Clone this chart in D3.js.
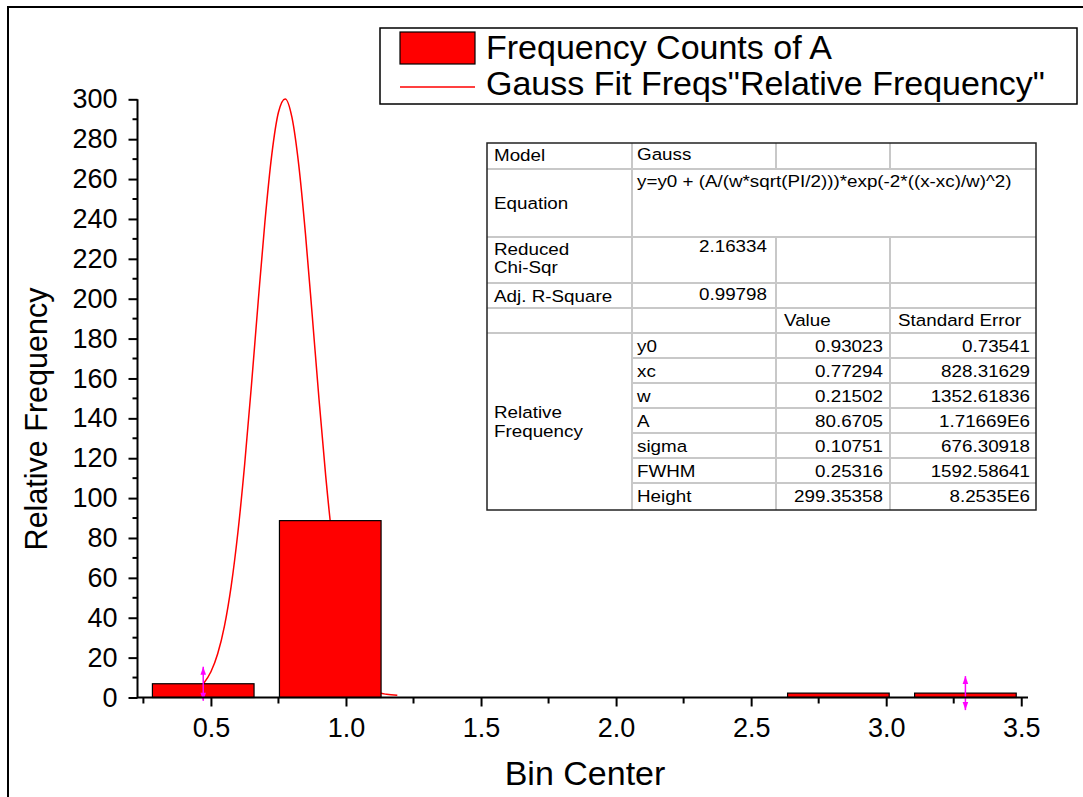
<!DOCTYPE html>
<html>
<head>
<meta charset="utf-8">
<script src="https://cdnjs.cloudflare.com/ajax/libs/d3/7.8.5/d3.min.js"></script>
<style>
  html, body { margin: 0; padding: 0; background: #fff; }
  svg { display: block; }
  text { font-family: "Liberation Sans", Arial, sans-serif; fill: #000; }
</style>
</head>
<body>
<svg id="chart" width="1083" height="797"></svg>
<script>
// ---------- data ----------
const binCenters = [0.4715, 0.9418, 1.4121, 1.8824, 2.3527, 2.8230, 3.2933];
const relFreq    = [6.9, 88.7, 0, 0, 0, 2.2, 2.2];
const binWidth = 0.4703;

const fitX = [0.4715, 0.50, 0.525, 0.55, 0.575, 0.60, 0.625, 0.65, 0.675, 0.70, 0.725, 0.75, 0.775,
              0.80, 0.825, 0.85, 0.875, 0.90, 0.925, 0.95, 0.975, 1.00, 1.025, 1.05, 1.075, 1.10,
              1.125, 1.15, 1.19];
const fitY = [6.8, 12.9, 21.9, 35.8, 55.9, 83.0, 117.1, 156.6, 198.6, 238.7, 271.9, 293.5, 300.2,
              290.9, 267.2, 232.5, 191.7, 149.8, 111.0, 78.1, 52.1, 33.1, 20.1, 11.7, 6.7, 3.9,
              2.3, 1.6, 1.1];

const fitRangeX = [0.4715, 3.2933];
const fitRangeY = [6.9, 2.2];

const yMajor = [0, 20, 40, 60, 80, 100, 120, 140, 160, 180, 200, 220, 240, 260, 280, 300];
const xMajor = [0.5, 1.0, 1.5, 2.0, 2.5, 3.0, 3.5];
const xMinor = [0.25, 0.75, 1.25, 1.75, 2.25, 2.75, 3.25];

const legendLabels = ["Frequency Counts of A", "Gauss Fit Freqs\"Relative Frequency\""];

const tblModel = ["Model", "Gauss"];
const tblEquation = ["Equation", "y=y0 + (A/(w*sqrt(PI/2)))*exp(-2*((x-xc)/w)^2)"];
const tblChi = [["Reduced", "Chi-Sqr"], "2.16334"];
const tblAdjR = ["Adj. R-Square", "0.99798"];
const tblHeader = ["Value", "Standard Error"];
const tblGroup = ["Relative", "Frequency"];
const paramNames  = ["y0", "xc", "w", "A", "sigma", "FWHM", "Height"];
const paramValues = ["0.93023", "0.77294", "0.21502", "80.6705", "0.10751", "0.25316", "299.35358"];
const paramErrors = ["0.73541", "828.31629", "1352.61836", "1.71669E6", "676.30918", "1592.58641", "8.2535E6"];

// ---------- drawing ----------
const svg = d3.select("#chart");
const FONT = "'Liberation Sans', Arial, sans-serif";

// page frame
svg.append("rect").attr("x", 8).attr("y", 7).attr("width", 1200).attr("height", 900)
  .attr("fill", "none").attr("stroke", "#000").attr("stroke-width", 2);

const x = d3.scaleLinear().domain([0.23, 3.525]).range([138, 1028]);
const y = d3.scaleLinear().domain([0, 300]).range([697.5, 99.3]);

// fit curve (under bars)
const line = d3.line().x((d, i) => x(fitX[i])).y(d => y(d)).curve(d3.curveMonotoneX);
svg.append("path").datum(fitY).attr("d", line)
  .attr("fill", "none").attr("stroke", "#ff0000").attr("stroke-width", 1.5);

// bars
const barW = binWidth * 0.8;
svg.append("g").selectAll("rect").data(relFreq.map((v, i) => ({c: binCenters[i], v})).filter(d => d.v > 0))
  .join("rect")
  .attr("x", d => x(d.c - barW / 2))
  .attr("width", d => x(d.c + barW / 2) - x(d.c - barW / 2))
  .attr("y", d => y(d.v))
  .attr("height", d => y(0) - y(d.v))
  .attr("fill", "#ff0000").attr("stroke", "#000").attr("stroke-width", 1.2);

// fit range markers (magenta double arrows)
const mk = svg.append("g").attr("fill", "#ff00ff").attr("stroke", "#ff00ff");
fitRangeX.forEach((fx, i) => {
  const cx = x(fx), cy = y(fitRangeY[i]);
  mk.append("line").attr("x1", cx).attr("x2", cx).attr("y1", cy - 17).attr("y2", cy + 17).attr("stroke-width", 1.5);
  mk.append("path").attr("stroke", "none")
    .attr("d", `M${cx},${cy - 17} L${cx - 2.8},${cy - 9} L${cx + 2.8},${cy - 9} Z`);
  mk.append("path").attr("stroke", "none")
    .attr("d", `M${cx},${cy + 17} L${cx - 2.8},${cy + 9} L${cx + 2.8},${cy + 9} Z`);
});

// y axis
const yAxis = svg.append("g").attr("transform", "translate(137.5,0)")
  .call(d3.axisLeft(y).tickValues(yMajor).tickFormat(d3.format("d")).tickSize(9).tickPadding(11));
yAxis.select(".domain").attr("d", `M0,${y(0)}V${y(300)}`).attr("stroke-width", 2);
yAxis.selectAll(".tick line").attr("stroke-width", 2);
yAxis.selectAll("text").attr("font-size", 27).attr("font-family", FONT);
const yMinor = d3.range(10, 300, 20);
yAxis.append("g").selectAll("line").data(yMinor).join("line")
  .attr("x1", -5).attr("x2", 0).attr("y1", d => y(d)).attr("y2", d => y(d))
  .attr("stroke", "#000").attr("stroke-width", 2);

// x axis
const xAxis = svg.append("g").attr("transform", `translate(0,${y(0)})`)
  .call(d3.axisBottom(x).tickValues(xMajor).tickFormat(d3.format(".1f")).tickSize(9).tickPadding(11.5));
xAxis.select(".domain").attr("d", `M${x(0.23) - 1},0H${x(3.525)}`).attr("stroke-width", 2);
xAxis.selectAll(".tick line").attr("stroke-width", 2);
xAxis.selectAll("text").attr("font-size", 27).attr("font-family", FONT);
xAxis.append("g").selectAll("line").data(xMinor).join("line")
  .attr("x1", d => x(d)).attr("x2", d => x(d)).attr("y1", 0).attr("y2", 6)
  .attr("stroke", "#000").attr("stroke-width", 2);

// axis titles
svg.append("text").attr("x", 585).attr("y", 785).attr("text-anchor", "middle")
  .attr("font-size", 34).text("Bin Center");
svg.append("text").attr("transform", "translate(47,419) rotate(-90)").attr("text-anchor", "middle")
  .attr("font-size", 30.5).text("Relative Frequency");

// legend
const lg = svg.append("g");
lg.append("rect").attr("x", 380).attr("y", 28).attr("width", 697).attr("height", 76)
  .attr("fill", "#fff").attr("stroke", "#000").attr("stroke-width", 1.5);
lg.append("rect").attr("x", 400).attr("y", 32).attr("width", 75).attr("height", 32)
  .attr("fill", "#ff0000").attr("stroke", "#000").attr("stroke-width", 1.2);
lg.append("line").attr("x1", 400).attr("x2", 475).attr("y1", 87).attr("y2", 87)
  .attr("stroke", "#ff0000").attr("stroke-width", 1.5);
lg.selectAll("text.lt").data(legendLabels).join("text").attr("class", "lt")
  .attr("x", 486).attr("y", (d, i) => 59 + i * 36).attr("font-size", 34).text(d => d);

// stats table
const tb = svg.append("g").attr("font-size", 16.5);
const cols = [487, 632, 776, 890, 1036];
const rows = [143, 169, 237, 283, 308, 333, 358, 383, 408, 433, 458, 483, 510];
const grid = "#c8c8c8";
tb.append("rect").attr("x", cols[0]).attr("y", rows[0]).attr("width", cols[4] - cols[0]).attr("height", rows[12] - rows[0])
  .attr("fill", "#fff");
rows.slice(1, 6).forEach(r => tb.append("line").attr("x1", cols[0]).attr("x2", cols[4]).attr("y1", r).attr("y2", r).attr("stroke", grid).attr("stroke-width", 2));
rows.slice(6, 12).forEach(r => tb.append("line").attr("x1", cols[1]).attr("x2", cols[4]).attr("y1", r).attr("y2", r).attr("stroke", grid).attr("stroke-width", 2));
tb.append("line").attr("x1", cols[1]).attr("x2", cols[1]).attr("y1", rows[0]).attr("y2", rows[12]).attr("stroke", grid).attr("stroke-width", 2);
[cols[2], cols[3]].forEach(c => {
  tb.append("line").attr("x1", c).attr("x2", c).attr("y1", rows[0]).attr("y2", rows[1]).attr("stroke", grid).attr("stroke-width", 2);
  tb.append("line").attr("x1", c).attr("x2", c).attr("y1", rows[2]).attr("y2", rows[12]).attr("stroke", grid).attr("stroke-width", 2);
});
tb.append("rect").attr("x", cols[0]).attr("y", rows[0]).attr("width", cols[4] - cols[0]).attr("height", rows[12] - rows[0])
  .attr("fill", "none").attr("stroke", "#222").attr("stroke-width", 1.5);

const SX = 1.14; // horizontal stretch of the table font
const lx = cols[0] + 7, vx = cols[1] + 5;
const txt = (xx, yy, s, anchor) => tb.append("text")
  .attr("transform", `translate(${xx},${yy}) scale(${SX},1)`)
  .attr("text-anchor", anchor || "start").text(s);
txt(lx, 161, tblModel[0]); txt(vx, 160, tblModel[1]);
txt(lx, 209, tblEquation[0]); txt(vx, 187, tblEquation[1]);
txt(lx, 255, tblChi[0][0]); txt(lx, 273, tblChi[0][1]); txt(cols[2] - 9, 252, tblChi[1], "end");
txt(lx, 302, tblAdjR[0]); txt(cols[2] - 9, 300, tblAdjR[1], "end");
txt(cols[2] + 8, 326, tblHeader[0]); txt(cols[3] + 8, 326, tblHeader[1]);
txt(lx, 418, tblGroup[0]); txt(lx, 437, tblGroup[1]);
paramNames.forEach((p, i) => {
  const by = rows[5] + 19 + i * 25;
  txt(vx, by, p);
  txt(cols[3] - 7, by, paramValues[i], "end");
  txt(cols[4] - 6, by, paramErrors[i], "end");
});
</script>
</body>
</html>
